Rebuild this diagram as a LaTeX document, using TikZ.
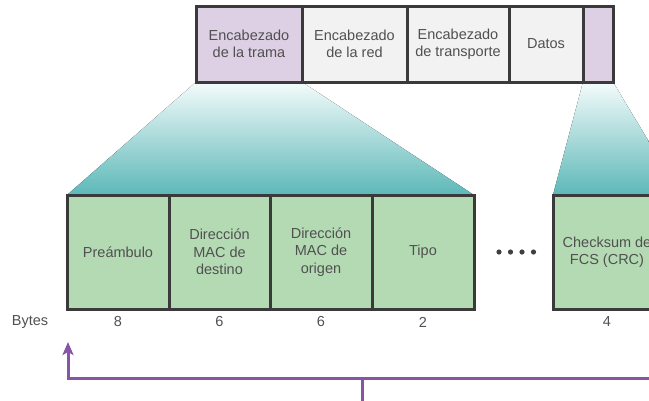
\documentclass[tikz,border=0pt]{standalone}
\usepackage{fontspec}
\setmainfont{Liberation Sans}
\usetikzlibrary{backgrounds,arrows.meta}
\definecolor{txt}{HTML}{505050}
\definecolor{border}{HTML}{3A3A3A}
\definecolor{lav}{HTML}{DDD0E4}
\definecolor{gry}{HTML}{F2F2F2}
\definecolor{grn}{HTML}{B4DAB4}
\definecolor{tealbot}{HTML}{5DB8B8}
\definecolor{tealtop}{HTML}{F4FBFB}
\definecolor{purp}{HTML}{8755A6}
\tikzset{
  field/.style={draw=border, line width=3pt, anchor=north west, inner sep=0pt, outer sep=0pt,
    align=center, text=txt, font=\fontsize{14.5}{17.5}\selectfont},
  topf/.style={field, minimum height=76pt},
  botf/.style={field, fill=grn, minimum height=114pt},
  lbl/.style={text=txt, font=\fontsize{14.5}{17.5}\selectfont, inner sep=0pt},
  fan/.style={top color=tealtop, bottom color=tealbot, draw=none},
  link/.style={draw=purp, line width=3pt},
  dot/.style={fill=txt!80!black, draw=none}
}
\begin{document}
\begin{tikzpicture}[x=1pt, y=-1pt]
\useasboundingbox (0,0) rectangle (649,400);
\clip (0,0) rectangle (649,400);
% top frame
\node[topf, fill=lav, minimum width=106pt] (frame) at (196,6) {Encabezado\\de la trama};
\node[topf, fill=gry, minimum width=105pt] (red) at (302,6) {Encabezado\\de la red};
\node[topf, fill=gry, minimum width=102pt] (trans) at (407,6) {Encabezado\\de transporte};
\node[topf, fill=gry, minimum width=74pt] (datos) at (509,6) {Datos};
\node[topf, fill=lav, minimum width=30pt] (fcs) at (583,6) {};
% bottom fields
\node[botf, minimum width=102pt] (pre) at (67,195) {Preámbulo};
\node[botf, minimum width=101pt] (dst) at (169,195) {Dirección\\MAC de\\destino};
\node[botf, minimum width=102pt] (src) at (270,195) {Dirección\\MAC de\\origen};
\node[botf, minimum width=102pt] (tipo) at (372,195) {Tipo};
\node[botf, minimum width=108pt] (crc) at (553,195) {Checksum de\\FCS (CRC)};
% fans
\begin{pgfonlayer}{background}
\fill[fan] (frame.south west) -- (frame.south east) -- (tipo.north east) -- (pre.north west) -- cycle;
\fill[fan] (fcs.south west) -- (fcs.south east) -- ([xshift=20pt]crc.north east) -- (crc.north west) -- cycle;
\end{pgfonlayer}
% dots
\foreach \x in {499,510.5,522,533.5} \fill[dot] (\x,252) circle (2.6pt);
% bytes
\node[lbl] (bytes) at (30,322) {Bytes};
\node[lbl] (b1) at ([yshift=-13pt]pre.south) {8};
\node[lbl] (b2) at ([yshift=-13pt]dst.south) {6};
\node[lbl] (b3) at ([yshift=-13pt]src.south) {6};
\node[lbl] (b4) at ([yshift=-13pt]tipo.south) {2};
\node[lbl] (b5) at ([yshift=-13pt]crc.south) {4};
% purple connector
\coordinate (tip) at (68,342);
\coordinate (corner) at (68,378);
\coordinate (rend) at (660,378);
\coordinate (join) at (362,378);
\coordinate (stem) at (362,410);
\draw[link, -{Stealth[length=13pt, width=11pt, inset=3pt]}] (rend) -- (corner) -- (tip);
\draw[link] (stem) -- (join);
\end{tikzpicture}
\end{document}
